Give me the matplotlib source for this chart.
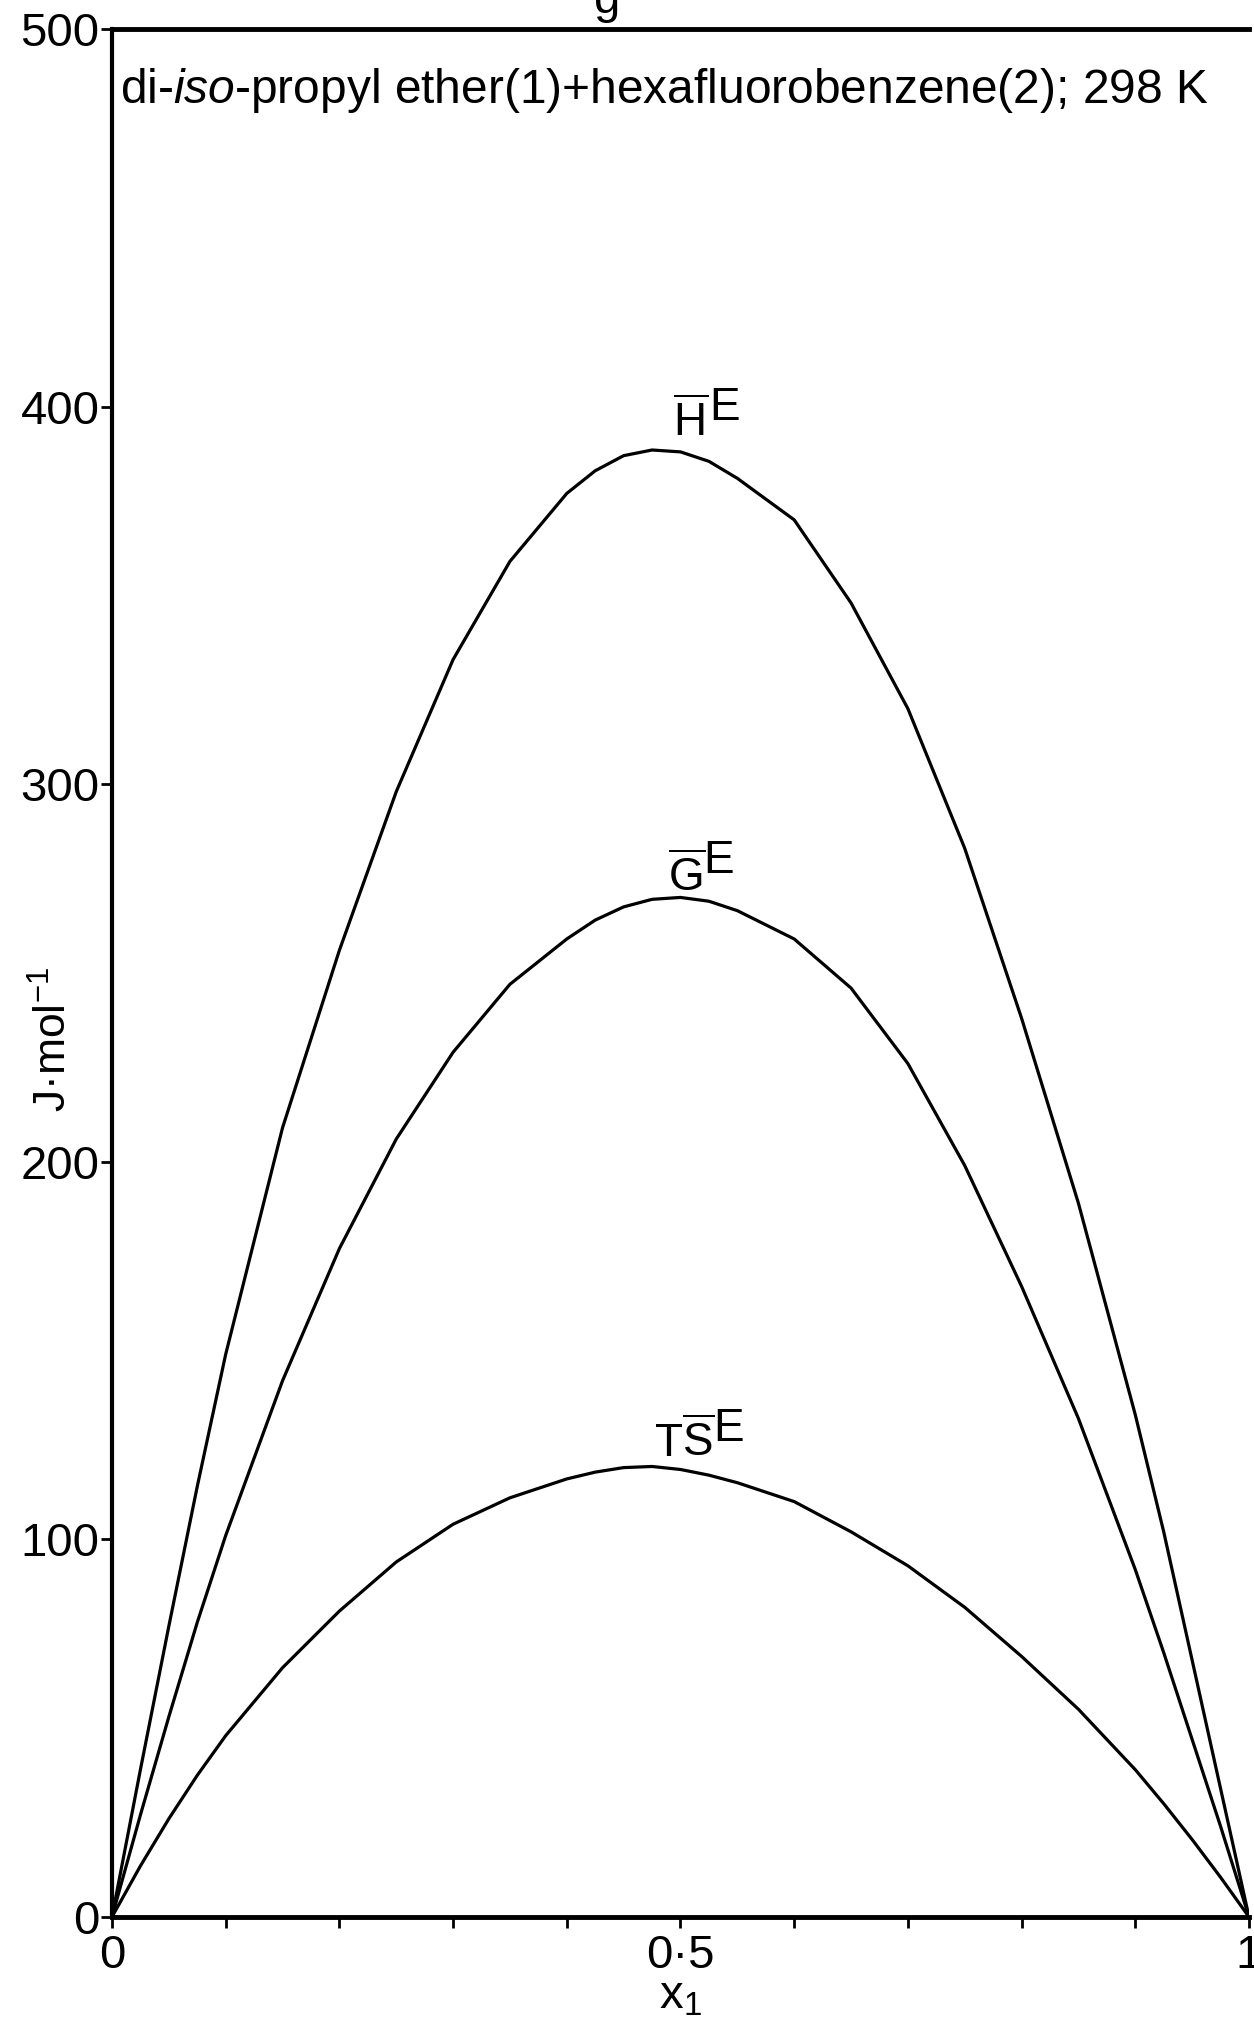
import matplotlib
matplotlib.use('Agg')
import matplotlib.pyplot as plt
from matplotlib.ticker import FixedLocator

# mole fraction of di-iso-propyl ether
x1 = [0.0, 0.025, 0.05, 0.075, 0.1, 0.15, 0.2, 0.25, 0.3, 0.35, 0.4, 0.425, 0.45, 0.475,
      0.5, 0.525, 0.55, 0.6, 0.65, 0.7, 0.75, 0.8, 0.85, 0.9, 0.925, 0.95, 0.975, 1.0]

# excess functions, J/mol
HE = [0, 39, 77, 114, 149, 209, 256, 298, 333, 359, 377, 383, 387, 388.5,
      388, 385.5, 381, 370, 348, 320, 283, 238, 189, 133, 102, 68, 34, 0]
GE = [0, 27, 53, 78, 101, 142, 177, 206, 229, 247, 259, 264, 267.5, 269.5,
      270, 269, 266.5, 259, 246, 226, 199, 167, 132, 92, 70, 47, 24, 0]
TSE = [0, 13.5, 26, 37.5, 48, 66, 81, 94, 104, 111, 116, 117.8, 119, 119.3,
       118.5, 117, 115, 110, 102, 93, 82, 69, 55, 39, 30, 20.5, 10.5, 0]

label_base = [r'$\overline{\mathrm{H}}$', r'$\overline{\mathrm{G}}$',
              r'$\mathrm{T}\overline{\mathrm{S}}$']
label_sup = ['E', 'E', 'E']

yticks = [0, 100, 200, 300, 400, 500]
xticks_major = [0, 0.5, 1]
xtick_labels = ['0', '0·5', '1']
xticks_minor = [0.1, 0.2, 0.3, 0.4, 0.6, 0.7, 0.8, 0.9]

title = r'di-$\mathit{iso}$-propyl ether(1)+hexafluorobenzene(2); 298 K'

plt.rcParams['font.family'] = ['Liberation Sans', 'DejaVu Sans']
plt.rcParams['mathtext.fontset'] = 'custom'
plt.rcParams['mathtext.rm'] = 'Liberation Sans'
plt.rcParams['mathtext.it'] = 'Liberation Sans:italic'

fig = plt.figure(figsize=(12.54, 20.27), dpi=100)
ax = fig.add_axes([0.0893, 0.0543, 0.9067, 0.9314])

for ys in (HE, GE, TSE):
    ax.plot(x1, ys, color='black', lw=2.3, solid_capstyle='round', solid_joinstyle='round')

# curve labels: base letter(s) with bar, then a raised E of the same size
base_xy = [(0.493, 392), (0.489, 271.5), (0.477, 121.8)]
sup_xy = [(0.525, 396.5), (0.520, 276.5), (0.529, 126)]
for b, s, bxy, sxy in zip(label_base, label_sup, base_xy, sup_xy):
    ax.text(bxy[0], bxy[1], b, fontsize=33, ha='left', va='baseline')
    ax.text(sxy[0], sxy[1], s, fontsize=33, ha='left', va='baseline')

ttl = ax.text(0.007, 480.5, title, fontsize=33, ha='left', va='baseline')

ax.set_xlim(0, 1)
ax.set_ylim(0, 500)
ax.set_yticks(yticks)
ax.set_yticklabels([str(v) for v in yticks])
ax.xaxis.set_major_locator(FixedLocator(xticks_major))
ax.set_xticklabels(xtick_labels)
ax.xaxis.set_minor_locator(FixedLocator(xticks_minor))

ax.tick_params(axis='both', which='both', direction='out', width=2, labelsize=34)
ax.tick_params(axis='y', length=8, pad=1)
ax.tick_params(axis='x', which='both', length=8, pad=4)

for side in ('left', 'bottom', 'top'):
    ax.spines[side].set_linewidth(3.5)
ax.spines['left'].set_linewidth(3)
ax.spines['right'].set_visible(False)

ax.set_xlabel(r'x$_1$', fontsize=34, labelpad=-2)
ax.set_ylabel(r'J·mol$^{-1}$', fontsize=32)
ax.yaxis.set_label_coords(-0.032, 0.465)

# cut-off caption letter at the very top edge
fig.text(0.484, 0.9935, 'g', fontsize=34, ha='center', va='baseline')

# squeeze the caption to the width it has in the original (about 1090 px)
fig.canvas.draw()
w = ttl.get_window_extent().width
ttl.set_fontsize(33 * 1090 / w)

fig.savefig('out.png', dpi=100, facecolor='white')
